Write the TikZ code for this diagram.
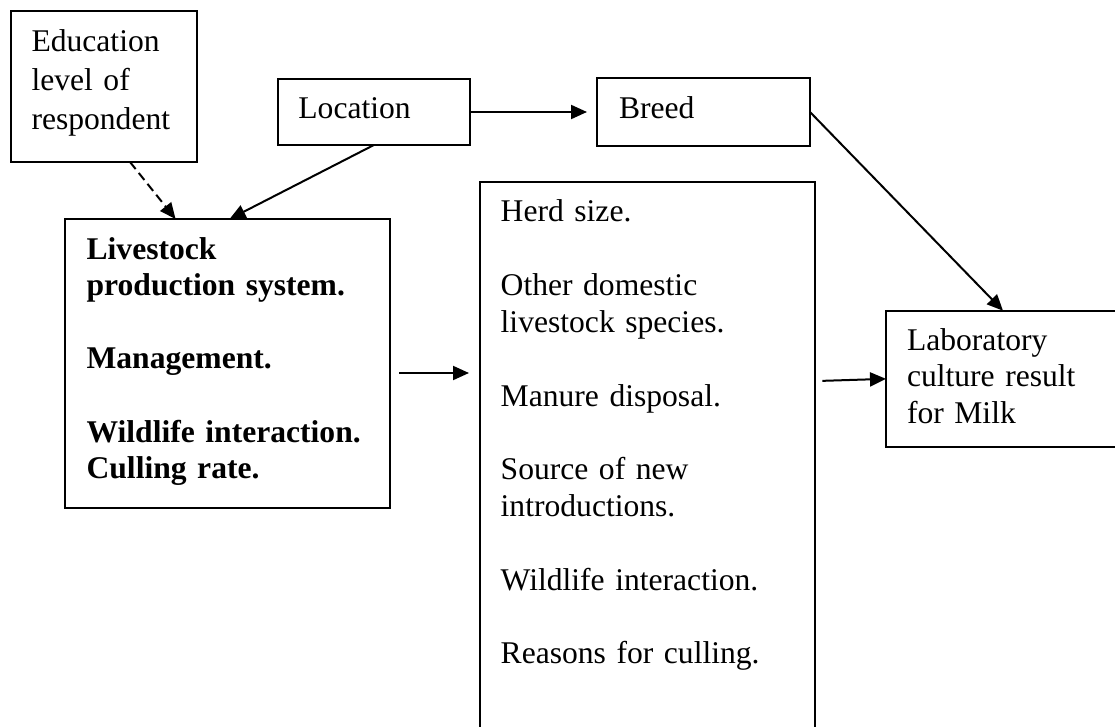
\documentclass[tikz,border=0pt]{standalone}
\usepackage{fontspec}
\setmainfont{Liberation Serif}
\usetikzlibrary{arrows.meta}

\tikzset{
  flowbox/.style={
    draw=black,          % black frame
    line width=2pt,      % frame thickness
    rectangle,           % shape
    anchor=north west,   % placed by its top left corner
    inner ysep=0pt,
    outer sep=0pt,
    align=left,
    font=\fontsize{31.6}{36.8}\selectfont
  },
  flowarrow/.style={line width=2pt, -{Triangle[length=16pt,width=14pt]}},
}

\begin{document}
\begin{tikzpicture}[x=1pt,y=-1pt]
	\useasboundingbox (0,0) rectangle (1115,727);
	\clip (0,0) rectangle (1115,727);
	% boxes
	\node[flowbox, inner xsep=20.5pt, text width=145pt, text height=41pt, text depth=110pt, font=\fontsize{31.6}{39}\selectfont] (edu) at (11,11) {Education\\level of\\respondent};
	\node[flowbox, inner xsep=20.7pt, text width=151pt, text height=39.5pt, text depth=26.5pt] (loc) at (277.7,79) {Location};
	\node[flowbox, inner xsep=22pt, text width=169pt, text height=41pt, text depth=27pt] (breed) at (597,78) {Breed};
	\node[flowbox, inner xsep=21.6pt, text width=282pt, text height=40pt, text depth=249pt, font=\fontsize{31.6}{36.6}\selectfont\bfseries] (live) at (65,219) {Livestock\\production system.\\[36.6pt]Management.\\[36.6pt]Wildlife interaction.\\Culling rate.};
	\node[flowbox, inner xsep=20.7pt, text width=294pt, text height=40pt, text depth=530pt] (mid) at (480,182) {Herd size.\\[36.8pt]Other domestic\\livestock species.\\[36.8pt]Manure disposal.\\[36.8pt]Source of new\\introductions.\\[36.8pt]Wildlife interaction.\\[36.8pt]Reasons for culling.};
	\node[flowbox, inner xsep=21pt, text width=192pt, text height=39.3pt, text depth=97pt] (lab) at (886,310.7) {Laboratory\\culture result\\for Milk};
	% connectors
	\draw[flowarrow, dash pattern=on 9pt off 5pt] ([xshift=26pt]edu.south) -- ([xshift=-52pt]live.north);
	\draw[flowarrow] (loc.south) -- ([xshift=2pt]live.north);
	\draw[flowarrow, shorten >=10pt] (loc.east) -- (breed.west);
	\draw[flowarrow, shorten <=9pt, shorten >=11pt] ([yshift=-9.5pt]live.east) -- ([yshift=-9.5pt]live.east -| mid.west);
	\draw[flowarrow] ([xshift=7pt,yshift=-2pt]lab.west -| mid.east) -- (lab.west);
	\draw[flowarrow] (breed.east) -- (lab.north);
\end{tikzpicture}
\end{document}
